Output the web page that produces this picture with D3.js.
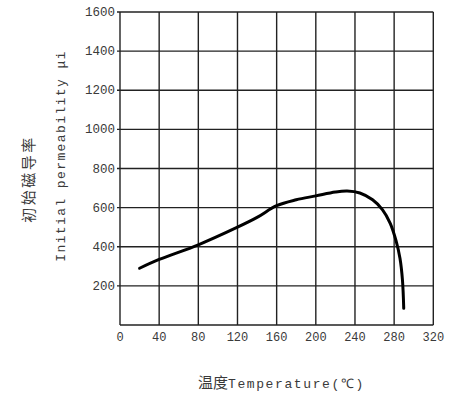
<!DOCTYPE html>
<html><head><meta charset="utf-8">
<script src="https://cdn.jsdelivr.net/npm/d3@7"></script>
<style>body{margin:0;background:#fff}svg{display:block}</style>
</head><body>
<script>
const xTicks = [0, 40, 80, 120, 160, 200, 240, 280, 320];
const yTicks = [200, 400, 600, 800, 1000, 1200, 1400, 1600];
const temperature = [20, 40, 80, 120, 140, 160, 180, 200, 220, 232, 245, 258, 268, 276, 282, 286, 288.5, 289.8];
const permeability = [290, 335, 410, 500, 550, 610, 640, 660, 680, 685, 675, 640, 590, 520, 430, 340, 230, 85];
const xTitleCn = "温度";
const xTitleEn = "Temperature(℃)";
const yTitleCn = "初始磁导率";
const yTitleEn = "Initial permeability  μi";

const W = 453, H = 402;
const svg = d3.select("body").append("svg").attr("width", W).attr("height", H);
const x = d3.scaleLinear().domain([0, 320]).range([120, 433.3]);
const y = d3.scaleLinear().domain([0, 1600]).range([325, 12]);
const mono = "'Liberation Mono', 'DejaVu Sans Mono', monospace";
const txt = "#3a3a3a";

// grid
const g = svg.append("g").attr("stroke", "#222").attr("stroke-width", 1.4).attr("fill", "none");
g.selectAll(".vx").data(xTicks).join("line")
  .attr("x1", d => x(d)).attr("x2", d => x(d)).attr("y1", y(0)).attr("y2", y(1600));
g.selectAll(".hy").data([0].concat(yTicks)).join("line")
  .attr("x1", d => d === 0 ? x(0) : x(0) - 3).attr("x2", x(320)).attr("y1", d => y(d)).attr("y2", d => y(d));

// tick labels
svg.append("g").selectAll("text").data(xTicks).join("text")
  .attr("x", d => x(d)).attr("y", y(0) + 16).attr("text-anchor", "middle")
  .attr("font-family", mono).attr("font-size", 12).attr("fill", txt).text(d => d);
svg.append("g").selectAll("text").data(yTicks).join("text")
  .attr("x", x(0) - 5).attr("y", d => y(d) + 4).attr("text-anchor", "end")
  .attr("font-family", mono).attr("font-size", 12.5).attr("fill", txt).text(d => d);

// curve
const line = d3.line().x((d, i) => x(temperature[i])).y(d => y(d)).curve(d3.curveCatmullRom.alpha(0.5));
svg.append("path").datum(permeability).attr("d", line)
  .attr("fill", "none").attr("stroke", "#000").attr("stroke-width", 3).attr("stroke-linecap", "round");

// x title
const xt = svg.append("text").attr("x", 198).attr("y", 388).attr("fill", txt);
xt.append("tspan").attr("font-family", "'Noto Sans CJK SC'").attr("font-size", 15).text(xTitleCn);
xt.append("tspan").attr("font-family", mono).attr("font-size", 13).attr("letter-spacing", 1.6).text(xTitleEn);

// y titles
svg.append("text").attr("transform", "translate(65,156) rotate(-90)").attr("text-anchor", "middle")
  .attr("font-family", mono).attr("font-size", 13).attr("letter-spacing", 1.4).attr("fill", txt).text(yTitleEn);
svg.append("text").attr("transform", "translate(34,179) rotate(-90)").attr("text-anchor", "middle")
  .attr("font-family", "'Noto Sans CJK SC'").attr("font-size", 15).attr("letter-spacing", 2.5).attr("fill", txt).text(yTitleCn);
</script>
</body></html>
